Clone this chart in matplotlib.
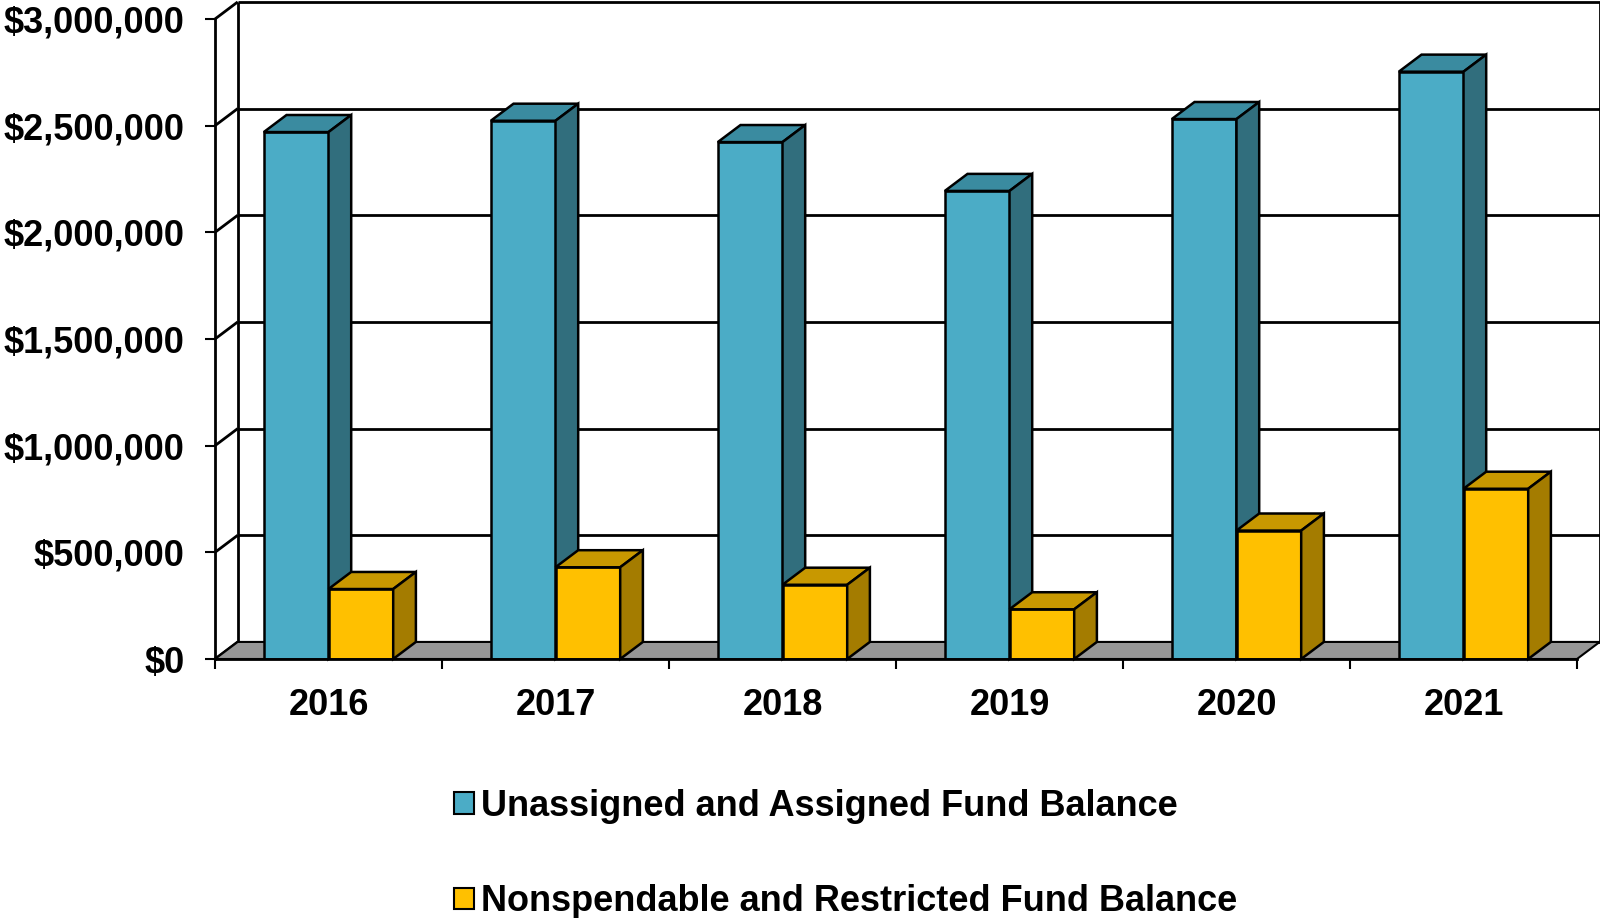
import matplotlib.pyplot as plt
from matplotlib.patches import Polygon, Patch
from matplotlib.ticker import FuncFormatter
import numpy as np

years = ['2016', '2017', '2018', '2019', '2020', '2021']
unassigned = [2470000, 2523000, 2423000, 2194000, 2531000, 2753000]
restricted = [328000, 430000, 348000, 233000, 602000, 798000]
series_names = ['Unassigned and Assigned Fund Balance',
                'Nonspendable and Restricted Fund Balance']

plt.rcParams['font.family'] = ['Liberation Sans', 'DejaVu Sans']
plt.rcParams['font.weight'] = 'bold'

YMAX = 3000000
STEP = 500000
DX = 0.1      # depth of the 3-D effect, in category units
DY = 80000    # depth of the 3-D effect, in value units
FS = 26

# front / top / side shades for each series
blue = ('#4BACC6', '#3A8BA0', '#316E7D')
gold = ('#FFC000', '#C89800', '#A47C00')

fig = plt.figure(figsize=(16, 9.18), dpi=100)
ax = fig.add_axes([215 / 1600, 1 - 659 / 918, 1362 / 1600, 640 / 918])
n = len(years)
ax.set_xlim(0, n)
ax.set_ylim(0, YMAX)
for name, sp in ax.spines.items():
    sp.set_visible(name in ('left', 'bottom'))
    sp.set_linewidth(2)
    sp.set_zorder(6)

# walls: side-wall diagonals, back-wall gridlines and edges
levels = np.arange(0, YMAX + STEP, STEP)
line_kw = dict(color='black', lw=2, clip_on=False, zorder=1,
               solid_capstyle='butt')
for v in levels:
    ax.plot([0, DX], [v, v + DY], **line_kw)
    ax.plot([DX, n + DX], [v + DY, v + DY], **line_kw)
ax.plot([DX, DX], [DY, YMAX + DY], **line_kw)
ax.plot([n + DX, n + DX], [DY, YMAX + DY], **line_kw)

# grey floor
ax.add_patch(Polygon([(0, 0), (n, 0), (n + DX, DY), (DX, DY)], closed=True,
                     facecolor='#969696', edgecolor='black', lw=1.5,
                     clip_on=False, zorder=2))

x = np.arange(n)
w = 0.285


def draw_bars(lefts, heights, shades, z):
    front, top, side = shades
    ax.bar(lefts, heights, width=w, align='edge', color=front,
           edgecolor='black', linewidth=1.8, zorder=z)
    for l, h in zip(lefts, heights):
        ax.add_patch(Polygon([(l, h), (l + w, h), (l + w + DX, h + DY),
                              (l + DX, h + DY)], closed=True, facecolor=top,
                             edgecolor='black', lw=1.8, clip_on=False,
                             zorder=z))
        ax.add_patch(Polygon([(l + w, 0), (l + w + DX, DY),
                              (l + w + DX, h + DY), (l + w, h)], closed=True,
                             facecolor=side, edgecolor='black', lw=1.8,
                             clip_on=False, zorder=z))


draw_bars(x + 0.215, unassigned, blue, 3)
draw_bars(x + 0.5, restricted, gold, 4)

# value axis
ax.set_yticks(levels)
ax.yaxis.set_major_formatter(FuncFormatter(lambda v, p: f'${v:,.0f}'))
ax.tick_params(axis='y', length=7, width=1.5, pad=15, labelsize=FS)

# category axis: ticks on boundaries, labels in the middle
ax.set_xticks(np.arange(n + 1))
ax.set_xticklabels([])
ax.tick_params(axis='x', which='major', length=7, width=1.5)
ax.set_xticks(x + 0.5, minor=True)
ax.set_xticklabels(years, minor=True)
ax.tick_params(axis='x', which='minor', length=0, pad=21, labelsize=FS)

handles = [Patch(facecolor=blue[0], edgecolor='black', lw=1.5),
           Patch(facecolor=gold[0], edgecolor='black', lw=1.5)]
fig.legend(handles, series_names, loc='center left',
           bbox_to_anchor=(454 / 1600, 1 - 854 / 918), frameon=False,
           fontsize=FS, handlelength=0.55, handleheight=0.55,
           handletextpad=0.2, labelspacing=1.67, borderpad=0,
           borderaxespad=0)

fig.savefig('out.png', dpi=100)
